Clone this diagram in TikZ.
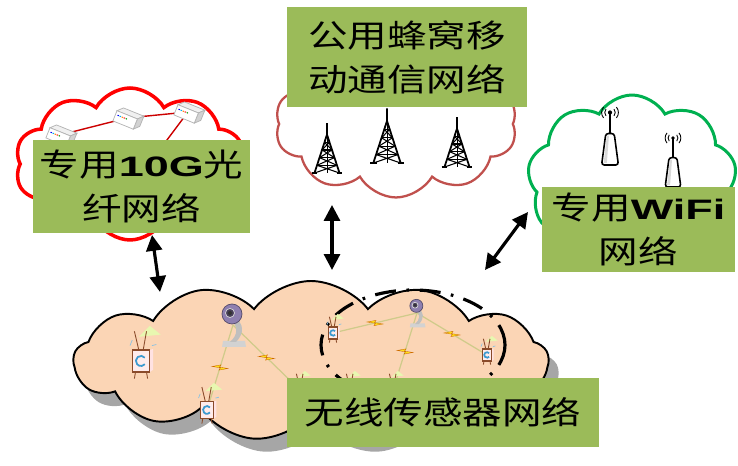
\documentclass[tikz,border=0pt]{standalone}
\usepackage{fontspec}
\setmainfont{Noto Sans CJK SC}[FakeStretch=1.25]
\newfontfamily\latinbf{Liberation Sans}[FakeStretch=1.6]
\usetikzlibrary{shapes.symbols,arrows.meta,decorations.markings}

\newcommand\latword[1]{{\latinbf\bfseries\fontsize{16}{25}\selectfont #1}}

\definecolor{boxgreen}{HTML}{9BBB59}
\definecolor{cloudred}{HTML}{FF0000}
\definecolor{cellred}{HTML}{C0504D}
\definecolor{wifigreen}{HTML}{00B050}
\definecolor{peach}{HTML}{FBD5B5}
\definecolor{linkyellow}{HTML}{CFCB8A}
\definecolor{boltyellow}{HTML}{FFE21A}
\definecolor{tvbrown}{HTML}{8A4B2A}
\definecolor{tvscreen}{HTML}{3C9AD0}
\definecolor{beamgreen}{HTML}{E8F7B0}
\definecolor{camviolet}{HTML}{8E7FB0}

\tikzset{
  netbox/.style={fill=boxgreen, inner sep=0pt, align=center,
    font=\fontsize{18}{25}\selectfont},
  netcloud/.style={cloud, cloud puffs=10, cloud puff arc=120,
    cloud ignores aspect, inner sep=0pt},
  biglink/.style={{Triangle[length=9pt,width=9pt]}-{Triangle[length=9pt,width=9pt]},
    line width=1.8pt},
  fibre/.style={draw=red!80!black, line width=.8pt},
  sensorlink/.style={draw=linkyellow, line width=.7pt, postaction={decorate},
    decoration={markings, mark=at position .5 with {\pic{bolt};}}},
  pics/bolt/.style={code={
    \filldraw[fill=boltyellow, draw=orange!80!black, line width=.2pt]
      (-8,1) -- (1,2.6) -- (-.5,.3) -- (8,-1) -- (-1,-2.6) -- (.5,-.3) -- cycle;
  }},
  % lattice mast of the cellular network
  pics/tower/.style={code={
    \draw[line width=1pt] (0,40) -- (-13,0) (0,40) -- (13,0) (0,40) -- (0,52);
    \draw[line width=.5pt] (0,0) -- (0,40);
    \foreach \h in {8,16,24,32}
      \draw[line width=.7pt] ({-13*(1-\h/40)},\h) -- ({13*(1-\h/40)},\h);
    \foreach \a/\b in {0/8,8/16,16/24,24/32,32/40}
      \draw[line width=.6pt] ({-13*(1-\a/40)},\a) -- ({13*(1-\b/40)},\b)
                             ({13*(1-\a/40)},\a) -- ({-13*(1-\b/40)},\b);
    \draw[line width=1.1pt] (-16,0) -- (-10,0) (10,0) -- (16,0);
  }},
  % optical switch box
  pics/fibreswitch/.style={code={
    \begin{scope}[rotate=-22]
      \filldraw[fill=gray!12, draw=gray!60, line width=.4pt]
        (-12,3) -- (-7,8) -- (15,8) -- (10,3) -- cycle;
      \filldraw[fill=gray!35, draw=gray!60, line width=.4pt]
        (10,3) -- (15,8) -- (15,-3) -- (10,-8) -- cycle;
      \filldraw[fill=white, draw=gray!60, line width=.4pt] (-12,-8) rectangle (10,3);
      \foreach \c [count=\i] in {blue,cyan,orange,red,green!60!black}
        \fill[\c] ({-12+\i*2.2},-1.5) rectangle +(1.4,1);
    \end{scope}
  }},
  % access point with radio waves
  pics/wifiap/.style={code={
    \draw[line width=.9pt] (0,30) -- (0,50);
    \filldraw[fill=white, draw=black, line width=.9pt, rounded corners=1.5pt]
      (-8,0) -- (-4,30) -- (4,30) -- (8,0) -- cycle;
    \fill[gray!30] (-6,2) -- (-3,28) -- (-1,28) -- (-3,2) -- cycle;
    \fill (0,50) circle[radius=2];
    \foreach \r in {5,8} {
      \draw[line width=.5pt] (0,50) ++(-40:\r) arc[start angle=-40, end angle=40, radius=\r];
      \draw[line width=.5pt] (0,50) ++(140:\r) arc[start angle=140, end angle=220, radius=\r];
    }
  }},
  % sensor node: small set with aerial
  pics/tvsensor/.style={code={
    \fill[beamgreen] (-2,22) -- (8,32) -- (18,24) -- cycle;
    \draw[tvbrown, line width=.5pt] (-2,10) -- (-6,27) (2,10) -- (5,27);
    \fill[pink!45] (8,-10) -- (11,-8) -- (11,11) -- (8,10) -- cycle;
    \filldraw[fill=pink!30, draw=tvbrown, line width=.6pt] (-8,-10) rectangle (8,10);
    \draw[tvscreen, line width=1pt] (3.5,3) arc[start angle=40, end angle=320, radius=4.6];
    \draw[tvbrown, line width=.5pt] (-5,-10) -- (-6,-16) (5,-10) -- (6,-16);
    \draw[tvscreen!60, line width=.4pt] (-10,14) -- (-8,19) (10,14) -- (14,15);
  }},
  % web camera on its stand
  pics/webcam/.style={code={
    \fill[gray!35] (-11,-22) -- (13,-22) -- (12,-16) -- (-10,-16) -- cycle;
    \fill[gray!50] (3,-17) .. controls (12,-8) and (10,2) .. (3,6)
      -- (-1,4) .. controls (5,-2) and (5,-10) .. (-3,-17) -- cycle;
    \filldraw[fill=camviolet, draw=camviolet!60!black, line width=.4pt]
      (-1,11) circle[radius=10];
    \filldraw[fill=camviolet!50!black, draw=gray!30] (-3,12) circle[radius=4.5];
    \fill[black!80] (-3,12) circle[radius=2];
  }},
}

\begin{document}
\begin{tikzpicture}[x=0.02cm, y=0.02cm]
  \useasboundingbox (0,0) rectangle (738,466);

  % the three upper networks
  \node[netcloud, draw=cloudred, line width=2pt, fill=white,
    minimum width=4.6cm, minimum height=3.04cm] (fibrecloud) at (130,302) {};
  \node[netcloud, draw=cellred, line width=1.3pt, fill=white,
    minimum width=4.84cm, minimum height=2.94cm] (cellcloud) at (396,342) {};
  \node[netcloud, cloud puffs=9, draw=wifigreen, line width=1.7pt, fill=white,
    minimum width=4.18cm, minimum height=3.4cm] (wificloud) at (632,286) {};

  \coordinate (sw1) at (60,331);
  \coordinate (sw2) at (127,348);
  \coordinate (sw3) at (188,354);
  \coordinate (sw4) at (140,290);
  \draw[fibre] (sw1) -- (sw2) -- (sw3) -- (sw4);
  \foreach \s in {sw1,sw2,sw3}
    \pic at (\s) {fibreswitch};

  \pic[scale=.96] at (327,293) {tower};
  \pic[scale=1.05] at (387,303) {tower};
  \pic[scale=.96] at (457,299) {tower};

  \pic[scale=1.05] at (610,301) {wifiap};
  \pic[scale=.98] at (673,279) {wifiap};

  % wireless sensor network
  \node[netcloud, cloud puffs=13, cloud puff arc=105, fill=gray!70,
    minimum width=9.5cm, minimum height=3.2cm] (wsnshadow) at (321,92) {};
  \node[netcloud, cloud puffs=13, cloud puff arc=105, draw=black, line width=1.1pt,
    fill=peach, minimum width=9.5cm, minimum height=3.2cm] (wsncloud) at (311,105) {};
  \draw[line width=1.8pt, dash pattern=on 12pt off 6pt on 1.5pt off 6pt]
    (413,121) ellipse[x radius=92, y radius=55];

  \coordinate (tv1) at (141,105);
  \coordinate (tv2) at (207,56);
  \coordinate (tv3) at (333,133);
  \coordinate (tv4) at (487,111);
  \coordinate (tv5) at (300,76);
  \coordinate (tv6) at (350,76);
  \coordinate (tv7) at (393,76);
  \coordinate (cam1) at (233,141);
  \coordinate (cam2) at (417,153);

  \draw[sensorlink] (cam1) -- (tv2);
  \draw[sensorlink] (cam1) -- (tv5);
  \draw[sensorlink] (cam2) -- (tv3);
  \draw[sensorlink] (cam2) -- (tv7);
  \draw[sensorlink] (cam2) -- (tv4);

  \pic[scale=1.1] at (tv1) {tvsensor};
  \pic[scale=.85] at (tv2) {tvsensor};
  \foreach \t in {tv3,tv4,tv5,tv6,tv7}
    \pic[scale=.6] at (\t) {tvsensor};
  \pic at (cam1) {webcam};
  \pic[scale=.65] at (cam2) {webcam};

  % labels
  \node[netbox, minimum width=4.8cm, minimum height=2cm] (cellbox)
    at (407,409) {公用蜂窝移\\动通信网络};
  \node[netbox, minimum width=4.34cm, minimum height=1.86cm] (fibrebox)
    at (141.5,279.5) {专用\latword{10G}光\\纤网络};
  \node[netbox, minimum width=3.86cm, minimum height=1.7cm] (wifibox)
    at (638.5,236.5) {专用\latword{WiFi}\\网络};
  \node[netbox, minimum width=6.24cm, minimum height=1.38cm] (wsnbox)
    at (443,53.5) {无线传感器网络};

  % links between the networks
  \coordinate (fibretop) at (152,231);
  \coordinate (fibrelow) at (160,174);
  \coordinate (celltop) at (332,261);
  \coordinate (celllow) at (332,196);
  \coordinate (wifitop) at (528,254);
  \coordinate (wifilow) at (485,196);
  \draw[biglink] (fibretop) -- (fibrelow);
  \draw[biglink] (celltop) -- (celllow);
  \draw[biglink] (wifitop) -- (wifilow);
\end{tikzpicture}
\end{document}
